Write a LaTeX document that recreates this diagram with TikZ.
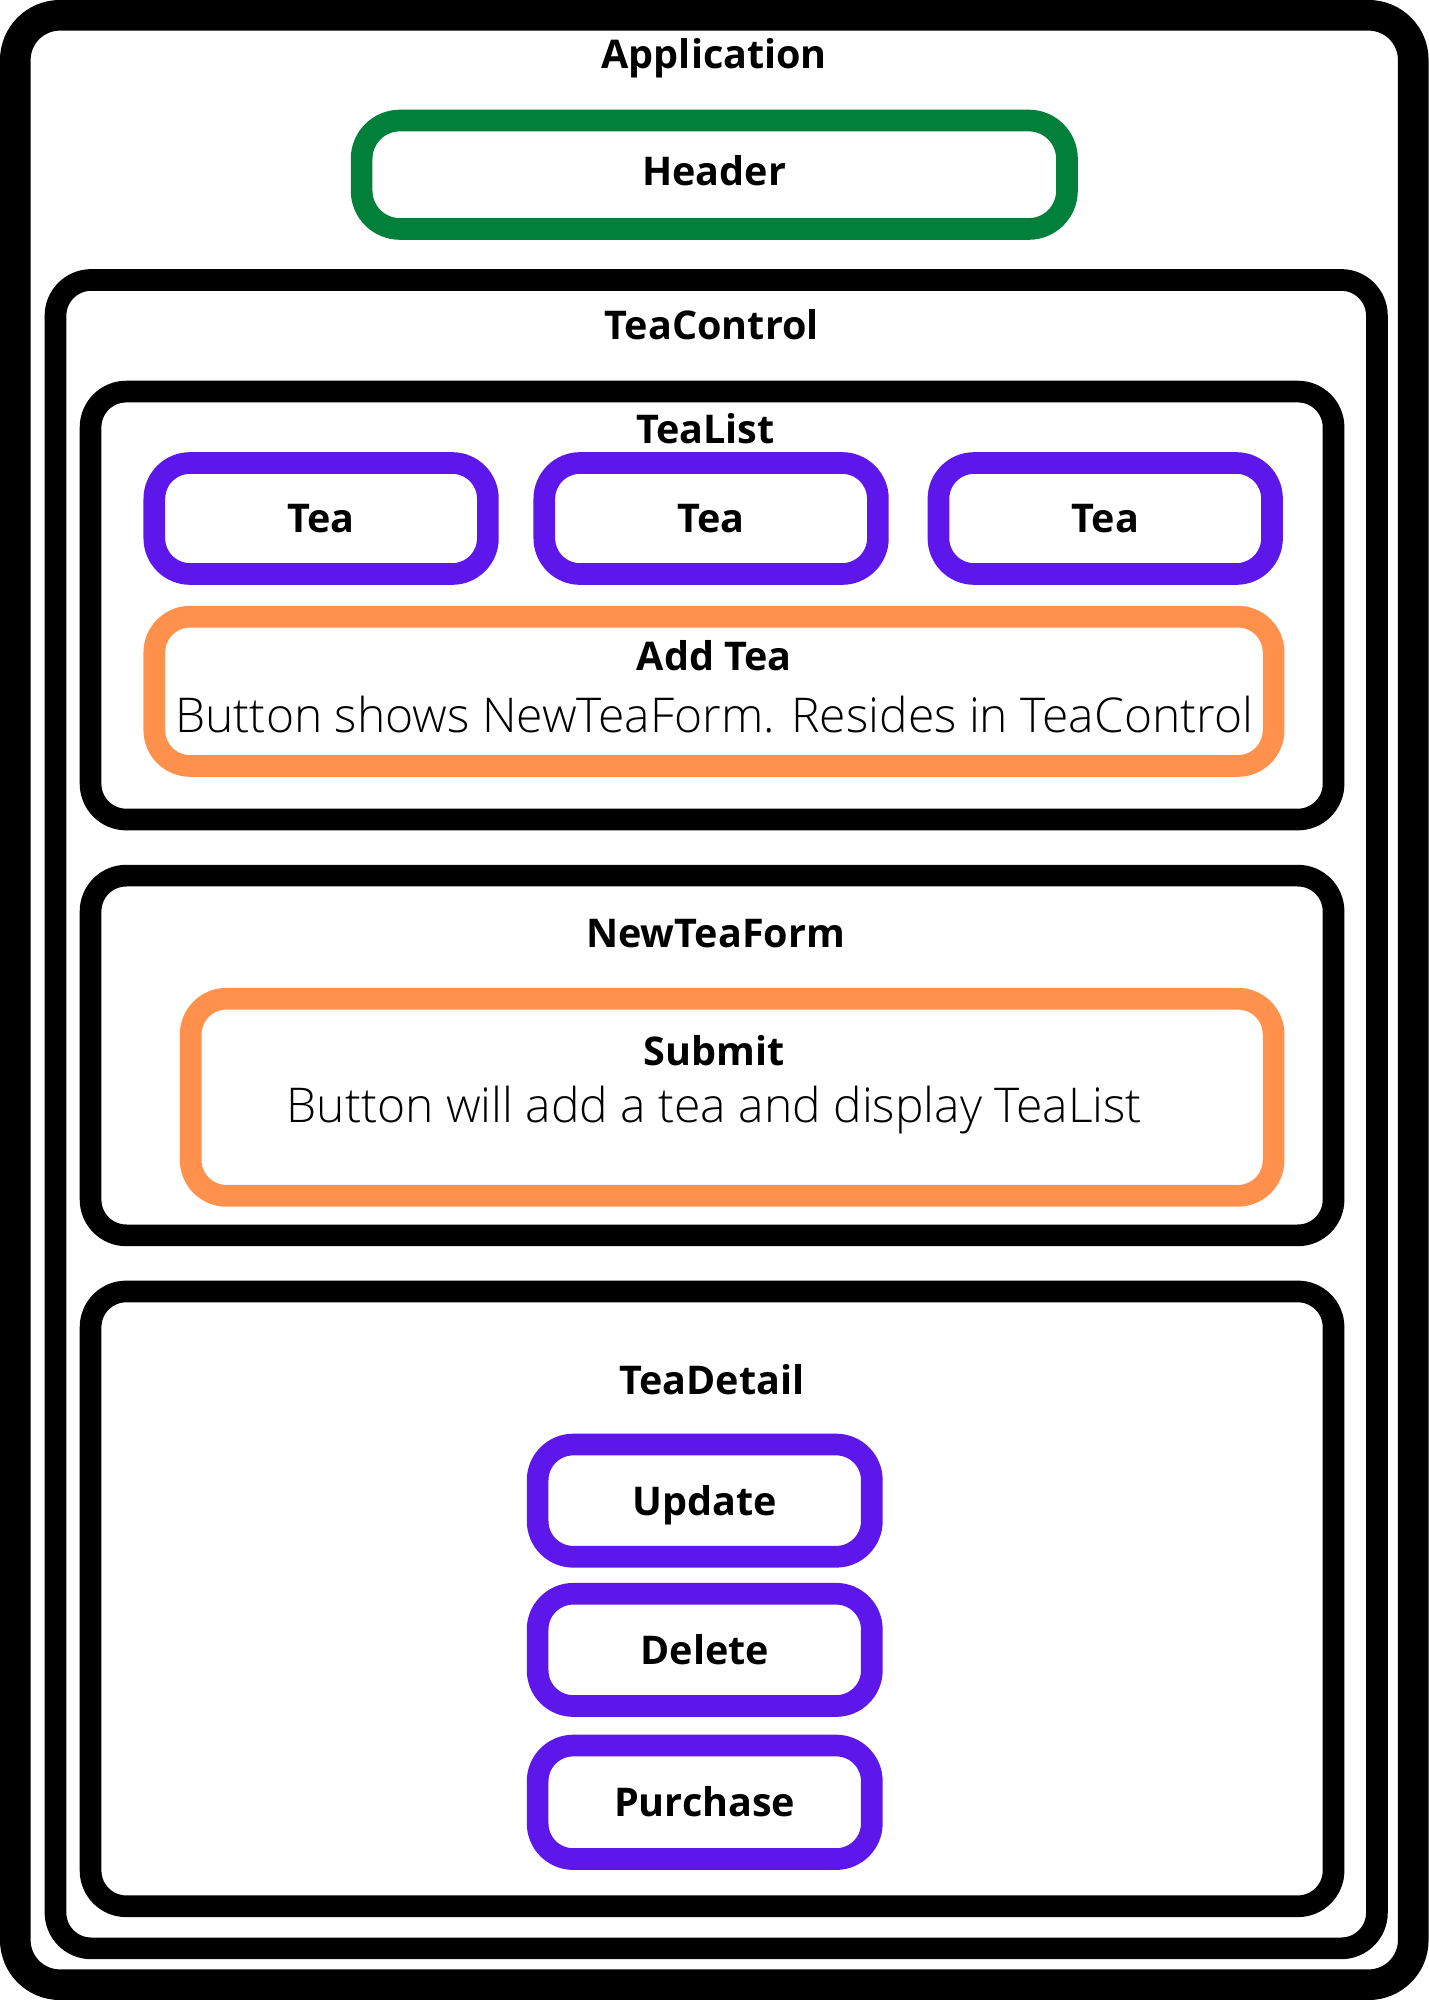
\documentclass[tikz,border=0pt]{standalone}
\usepackage{fontspec}
\setmainfont{Open Sans}
\newfontfamily\lightfont{Open Sans Light}
\usetikzlibrary{positioning}

\definecolor{headergreen}{HTML}{00803A}
\definecolor{btnpurple}{HTML}{5E17EB}
\definecolor{btnorange}{HTML}{FF914D}

\tikzset{
    box/.style={draw, line width=17pt, rounded corners=28pt, inner sep=0pt},
    title/.style={font=\fontsize{31}{36}\selectfont\bfseries, inner sep=0pt, anchor=base},
    note/.style={font=\fontsize{37.6}{42}\selectfont\lightfont, inner sep=0pt, anchor=base},
    btn/.style={box, draw=btnpurple, minimum width=262pt, minimum height=88pt,
        font=\fontsize{31}{36}\selectfont\bfseries, text height=22.7pt, text depth=0pt}
}

\begin{document}
\begin{tikzpicture}[x=1pt, y=-1pt]
    \useasboundingbox (0, 0) rectangle (1120, 1568);

    % Application
    \node[box, line width=24pt, rounded corners=35pt, minimum width=1096pt, minimum height=1544pt] (app) at (560, 784) {};
    \node[title] (applabel) at (560, 54) {Application};

    % Header
    \node[box, draw=headergreen, rounded corners=30pt, minimum width=553pt, minimum height=85pt] (header) at (560, 137) {};
    \node[title] (headerlabel) at (560, 145.5) {Header};

    % TeaControl
    \node[box, minimum width=1036pt, minimum height=1308pt] (teacontrol) at (561.5, 873.5) {};
    \node[title] (teacontrollabel) at (558, 266) {TeaControl};

    % TeaList
    \node[box, minimum width=974.5pt, minimum height=335.5pt] (tealist) at (558.25, 474.75) {};
    \node[title] (tealistlabel) at (553, 348) {TeaList};
    \foreach \x/\n in {251.75/1, 557.5/2, 866.5/3} {
        \node[btn, minimum width=261.5pt, minimum height=87pt] (tea\n) at (\x, 406.5) {Tea};
    }
    \node[box, draw=btnorange, minimum width=877.5pt, minimum height=117pt] (addtea) at (559.75, 542) {};
    \node[title] (addtealabel) at (560, 526) {Add Tea};
    \node[note] (addteanote) at (560, 574.5) {Button shows NewTeaForm. Resides in TeaControl};

    % NewTeaForm
    \node[box, minimum width=974.5pt, minimum height=282pt] (newteaform) at (558.25, 827.5) {};
    \node[title] (newteaformlabel) at (561, 743) {NewTeaForm};
    \node[box, draw=btnorange, minimum width=849pt, minimum height=154.5pt] (submit) at (574, 860.25) {};
    \node[title] (submitlabel) at (560, 835) {Submit};
    \node[note] (submitnote) at (560, 880) {Button will add a tea and display TeaList};

    % TeaDetail
    \node[box, minimum width=974.5pt, minimum height=482pt] (teadetail) at (558.25, 1253.5) {};
    \node[title] (teadetaillabel) at (558, 1093) {TeaDetail};
    \node[btn] (update) at (552.5, 1176.5) {Update};
    \node[btn] (delete) at (552.5, 1293.5) {Delete};
    \node[btn, minimum height=89pt] (purchase) at (552.5, 1413) {Purchase};
\end{tikzpicture}
\end{document}
